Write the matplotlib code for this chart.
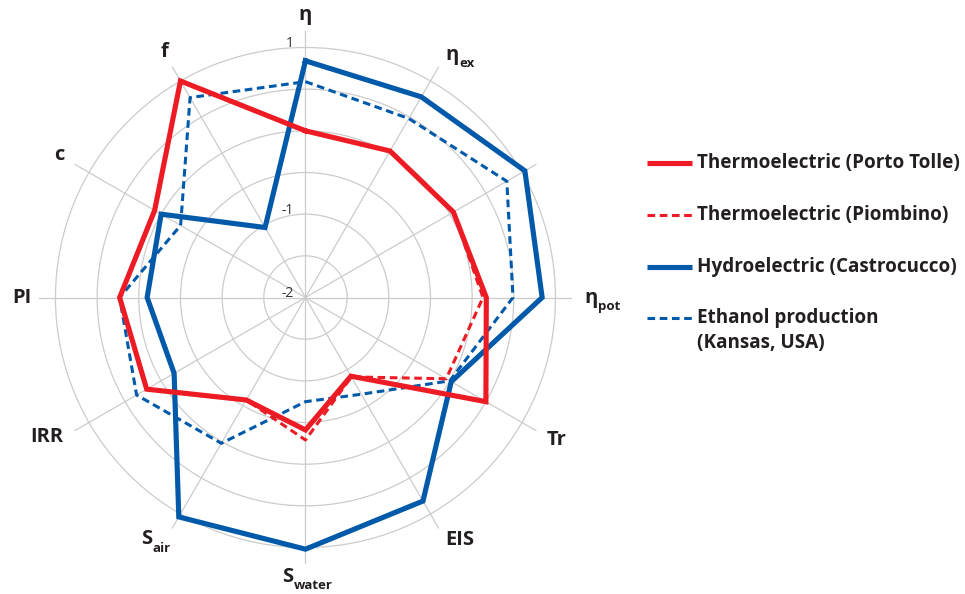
import numpy as np
import matplotlib
matplotlib.use('Agg')
import matplotlib.pyplot as plt

plt.rcParams['font.family'] = ['Open Sans', 'DejaVu Sans']

# axis names: (main glyph, subscript); the 30 deg spoke has no name in the source
axis_main = ['η', 'η', '', 'η', 'Tr', 'EIS', 'S', 'S', 'IRR', 'PI', 'c', 'f']
axis_sub = ['', 'ex', '', 'pot', '', '', 'water', 'air', '', '', '', '']

porto_tolle = [0.0, 0.03, 0.05, 0.17, 0.5, -0.91, -0.41, -0.58, 0.2, 0.23, 0.09, 1.0]
piombino = [0.0, 0.03, 0.05, 0.13, -0.05, -0.9, -0.29, -0.58, 0.2, 0.23, 0.09, 1.0]
castrocucco = [0.84, 0.78, 1.04, 0.84, 0.02, 0.82, 1.02, 1.04, -0.18, -0.1, 0.0, -1.03]
ethanol = [0.59, 0.48, 0.79, 0.49, 0.0, -0.66, -0.75, 0.02, 0.34, 0.23, -0.27, 0.77]

series_names = ['Thermoelectric (Porto Tolle)', 'Thermoelectric (Piombino)',
                'Hydroelectric (Castrocucco)', 'Ethanol production\n(Kansas, USA)']

r_ticks = [-1.5, -1, -0.5, 0, 0.5, 1]
r_labels = {-2: '-2', -1: '-1', 1: '1'}

RED = '#ed1c24'
BLUE = '#005aa9'
INK = '#231f20'
DASH = (0, (2.5, 1.5))

fig = plt.figure(figsize=(9.65, 5.94), dpi=100)
ax = fig.add_axes([0.0402, 0.0502, 0.5527, 0.8979], projection='polar')
ax.set_theta_zero_location('N')
ax.set_theta_direction(-1)
ax.set_ylim(-2, 1.2)

n = len(axis_main)
theta = np.linspace(0, 2 * np.pi, n, endpoint=False)
closed = np.append(theta, theta[0])


def close(v):
    return np.append(v, v[0])


ax.plot(closed, close(ethanol), color=BLUE, lw=2.2, ls=DASH, zorder=3)
ax.plot(closed, close(castrocucco), color=BLUE, lw=3.7, zorder=4, solid_joinstyle='miter')
ax.plot(closed, close(piombino), color=RED, lw=2.2, ls=DASH, zorder=5)
ax.plot(closed, close(porto_tolle), color=RED, lw=3.7, zorder=6, solid_joinstyle='miter')

ax.set_thetagrids(np.degrees(theta), labels=[])
ax.set_rgrids(r_ticks, labels=[])
ax.grid(color='#cccccc', lw=0.9)
ax.set_axisbelow(True)
ax.spines['polar'].set_visible(False)
ax.tick_params(length=0)

for val, txt in r_labels.items():
    ax.annotate(txt, xy=(0, val), xytext=(-8.5, 3), textcoords='offset points',
                ha='right', va='center', fontsize=10, color='#333333', zorder=1)

# label placement: clockwise angle (deg) and radius (data units)
lab_ang = [0, 31.1, 0, 90, 119.6, 147.6, 183.6, 213.3, 241.6, 270, 300.1, 330.1]
lab_r = [1.39, 1.40, 1.4, 1.43, 1.46, 1.45, 1.36, 1.47, 1.53, 1.40, 1.41, 1.40]

for i in range(n):
    if not axis_main[i]:
        continue
    t = ax.text(np.radians(lab_ang[i]), lab_r[i], axis_main[i], ha='center', va='center',
                fontsize=14.5, fontweight='bold', color=INK, clip_on=False)
    if axis_sub[i]:
        ax.annotate(axis_sub[i], xy=(1.0, 0.5), xycoords=t,
                    xytext=(0.3, -6.5), textcoords='offset points', ha='left', va='center',
                    fontsize=9.5, fontweight='bold', color=INK, annotation_clip=False)

# legend drawn in a pixel-space overlay
lax = fig.add_axes([0, 0, 1, 1])
lax.set_xlim(0, 965)
lax.set_ylim(594, 0)
lax.axis('off')
lax.patch.set_alpha(0)
styles = [(RED, 3.7, '-'), (RED, 2.2, DASH), (BLUE, 3.7, '-'), (BLUE, 2.2, DASH)]
rows = [163, 215, 267, 318]
for (c, lw, ls), y, name in zip(styles, rows, series_names):
    lax.plot([647, 692], [y, y], color=c, lw=lw, ls=ls, solid_capstyle='butt')
    for k, line in enumerate(name.split('\n')):
        lax.text(697, y + 25 * k, line, ha='left', va='center',
                 fontsize=13.6, fontweight='bold', color=INK)

fig.savefig('out.png', dpi=100)
